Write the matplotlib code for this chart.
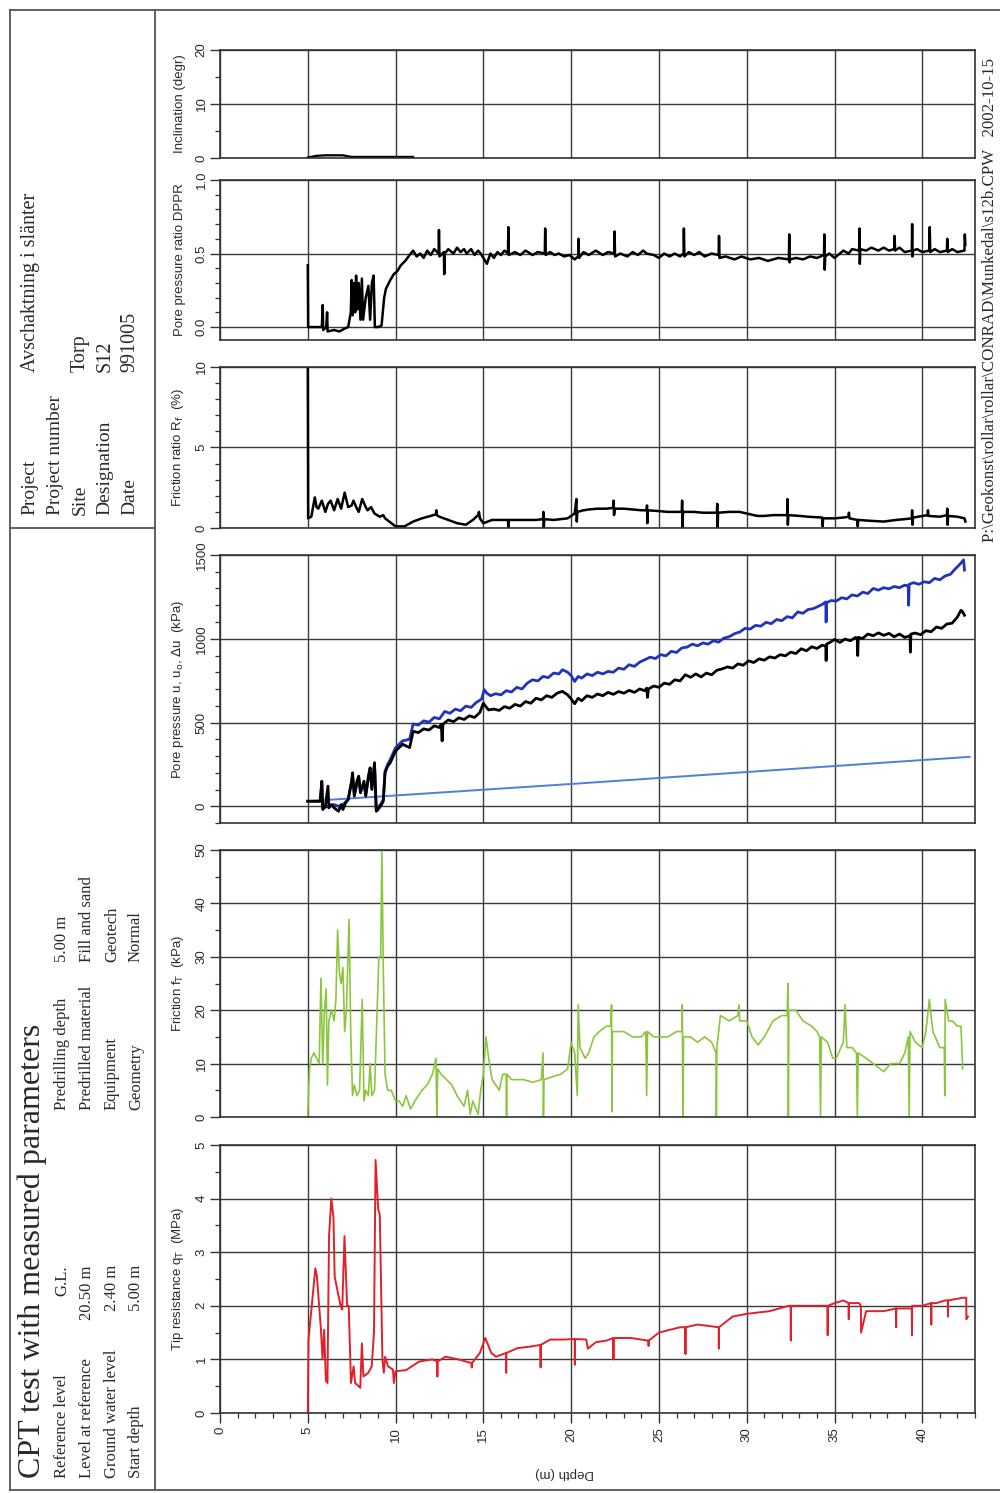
import numpy as np
import matplotlib
matplotlib.use("Agg")
import matplotlib.pyplot as plt
from matplotlib.ticker import MultipleLocator, FormatStrFormatter
from matplotlib.lines import Line2D

# ---------------- data ----------------
incl_depth = [5.0, 5.5, 6.0, 7.0, 7.5, 9.0, 11.0]
incl_val = [0.1, 0.4, 0.5, 0.5, 0.2, 0.2, 0.2]

dppr_depth = [5.0, 5.02, 5.5, 5.8, 5.85, 5.88, 6.05, 6.1, 6.13, 6.5, 6.8, 7.1, 7.3, 7.45, 7.5, 7.55, 7.62, 7.7,
              7.75, 7.82, 7.9, 8.0, 8.08, 8.15, 8.3, 8.45, 8.55, 8.65, 8.75, 8.82, 9.0, 9.2, 9.35, 9.45, 9.7, 9.9,
              10.1, 10.3, 10.55, 10.8, 11.0, 11.2, 11.4, 11.6, 11.8, 12.0, 12.2, 12.45, 12.47, 12.5, 12.75, 12.77,
              12.8, 13.0, 13.3, 13.5, 13.7, 13.9, 14.05, 14.3, 14.5, 14.7, 14.85, 15.2, 15.4, 15.6, 15.8, 16.0,
              16.2, 16.4, 16.42, 16.45, 16.8, 17.1, 17.4, 17.8, 18.1, 18.5, 18.52, 18.55, 18.8, 19.05, 19.3, 19.6,
              19.9, 20.2, 20.4, 20.42, 20.45, 20.7, 21.0, 21.4, 21.8, 22.1, 22.45, 22.47, 22.5, 22.8, 23.2, 23.5,
              23.8, 24.1, 24.3, 24.7, 25.0, 25.3, 25.6, 25.9, 26.2, 26.4, 26.42, 26.45, 26.7, 27.0, 27.3, 27.6,
              28.0, 28.4, 28.42, 28.45, 28.8, 29.3, 29.7, 30.2, 30.7, 31.2, 31.8, 32.4, 32.42, 32.44, 32.47,
              32.8, 33.2, 33.6, 34.0, 34.4, 34.42, 34.44, 34.47, 34.7, 35.0, 35.3, 35.5, 35.8, 36.0, 36.4, 36.42,
              36.44, 36.47, 36.8, 37.1, 37.5, 37.8, 38.1, 38.4, 38.42, 38.45, 38.7, 39.0, 39.4, 39.42, 39.44,
              39.47, 39.7, 40.0, 40.4, 40.42, 40.45, 40.7, 41.0, 41.4, 41.42, 41.45, 41.7, 42.0, 42.4, 42.42,
              42.45]
dppr_val = [0.42, 0.0, 0.0, 0.0, 0.15, -0.02, 0.0, 0.1, -0.03, -0.02, -0.03, -0.01, 0.0, 0.1, 0.32, 0.08, 0.3, 0.1,
            0.35, 0.12, 0.3, 0.05, 0.33, 0.05, 0.2, 0.28, 0.05, 0.3, 0.35, 0.0, 0.0, 0.01, 0.2, 0.26, 0.32, 0.36,
            0.38, 0.42, 0.45, 0.49, 0.52, 0.48, 0.5, 0.47, 0.52, 0.49, 0.53, 0.5, 0.66, 0.48, 0.51, 0.36,
            0.5, 0.53, 0.5, 0.54, 0.51, 0.53, 0.5, 0.53, 0.49, 0.52, 0.5, 0.43, 0.5, 0.47, 0.51, 0.49,
            0.52, 0.5, 0.68, 0.49, 0.51, 0.49, 0.52, 0.49, 0.51, 0.5, 0.67, 0.49, 0.51, 0.49, 0.5, 0.48,
            0.49, 0.46, 0.48, 0.6, 0.47, 0.51, 0.49, 0.52, 0.49, 0.51, 0.5, 0.65, 0.48, 0.5, 0.48, 0.51,
            0.49, 0.52, 0.5, 0.49, 0.47, 0.5, 0.48, 0.5, 0.48, 0.5, 0.67, 0.48, 0.51, 0.49, 0.51, 0.48,
            0.5, 0.49, 0.62, 0.47, 0.48, 0.46, 0.48, 0.46, 0.47, 0.45, 0.47, 0.46, 0.63, 0.44, 0.46,
            0.47, 0.46, 0.48, 0.47, 0.49, 0.63, 0.39, 0.48, 0.5, 0.47, 0.5, 0.52, 0.5, 0.53, 0.52, 0.67,
            0.43, 0.53, 0.52, 0.54, 0.52, 0.54, 0.52, 0.53, 0.62, 0.52, 0.54, 0.51, 0.52, 0.7, 0.48,
            0.52, 0.53, 0.51, 0.52, 0.68, 0.51, 0.53, 0.51, 0.52, 0.6, 0.51, 0.53, 0.51, 0.52, 0.63,
            0.56]

rf_depth = [5.0, 5.02, 5.2, 5.4, 5.5, 5.6, 5.8, 6.0, 6.15, 6.3, 6.5, 6.7, 6.9, 7.1, 7.3, 7.5, 7.6, 7.8, 7.9, 8.1,
            8.3, 8.4, 8.6, 8.8, 9.1, 9.3, 9.4, 9.7, 10.0, 10.5, 11.0, 11.5, 12.0, 12.3, 12.32, 12.35, 12.5, 13.0,
            13.5, 14.0, 14.4, 14.7, 14.75, 14.8, 15.0, 15.5, 16.0, 16.4, 16.42, 16.45, 17.0, 18.0, 18.4, 18.42,
            18.44, 18.47, 19.0, 19.8, 20.2, 20.3, 20.32, 20.35, 20.7, 21.0, 21.5, 22.0, 22.4, 22.42, 22.44, 22.5,
            23.0, 23.5, 24.0, 24.3, 24.32, 24.34, 24.37, 25.0, 25.5, 26.0, 26.3, 26.32, 26.34, 26.37, 27.0, 27.5,
            28.3, 28.32, 28.34, 28.37, 29.0, 29.6, 30.0, 30.6, 31.0, 31.5, 32.3, 32.32, 32.34, 32.37, 33.0, 33.5,
            34.3, 34.32, 34.35, 35.0, 35.5, 35.8, 35.82, 35.85, 36.3, 36.32, 36.35, 37.0, 37.8, 38.5, 39.0, 39.4,
            39.42, 39.44, 39.47, 40.0, 40.3, 40.32, 40.35, 41.0, 41.4, 41.42, 41.44, 41.47, 42.0, 42.4, 42.45]
rf_val = [10.0, 0.6, 0.7, 1.9, 1.3, 1.2, 1.7, 1.0, 1.5, 1.7, 1.1, 1.8, 1.2, 2.2, 1.3, 1.4, 1.7, 1.2, 1.0, 1.8,
          1.3, 1.1, 1.3, 0.9, 0.7, 0.8, 0.6, 0.35, 0.1, 0.1, 0.4, 0.6, 0.75, 0.85, 1.1, 0.8, 0.7, 0.5,
          0.3, 0.2, 0.5, 0.8, 1.0, 0.6, 0.3, 0.5, 0.5, 0.5, 0.0, 0.5, 0.5, 0.5, 0.55, 1.0,
          0.0, 0.55, 0.5, 0.6, 0.9, 1.8, 0.4, 1.0, 1.1, 1.15, 1.2, 1.2, 1.25, 1.7, 0.8, 1.2,
          1.2, 1.15, 1.1, 1.1, 1.4, 0.3, 1.1, 1.05, 1.0, 1.0, 1.0, 1.7, 0.0, 1.0, 1.0, 0.95,
          0.95, 1.5, 0.0, 0.95, 1.0, 1.0, 0.9, 0.75, 0.75, 0.8, 0.8, 1.8, 0.2, 0.8, 0.75, 0.7,
          0.65, 0.1, 0.6, 0.6, 0.65, 0.7, 0.95, 0.6, 0.5, 0.1, 0.5, 0.45, 0.4, 0.5, 0.55, 0.6,
          1.1, 0.2, 0.65, 0.75, 0.8, 1.1, 0.75, 0.7, 0.8, 1.2, 0.2, 0.75, 0.7, 0.6, 0.4]

u_depth = [5.0, 5.7, 5.8, 5.85, 6.0, 6.15, 6.2, 6.35, 6.5, 6.75, 6.9, 7.0, 7.15, 7.3, 7.5, 7.55, 7.65, 7.8, 7.9,
           8.0, 8.2, 8.3, 8.45, 8.55, 8.65, 8.8, 8.9, 9.0, 9.2, 9.3, 9.4, 9.55, 9.7, 10.0, 10.4, 10.8,
           11.0, 11.3, 11.6, 11.9, 12.2, 12.5, 12.6, 12.65, 12.7, 13.0, 13.3, 13.6, 13.9, 14.2, 14.5, 14.8,
           15.0, 15.1, 15.3, 15.6, 15.9, 16.2, 16.5, 16.8, 17.1, 17.4, 17.7, 18.0, 18.3, 18.6, 18.9, 19.2,
           19.5, 19.8, 20.0, 20.2, 20.4, 20.6, 20.9, 21.2, 21.5, 21.8, 22.1, 22.4, 22.7, 23.0, 23.3, 23.6,
           23.9, 24.2, 24.3, 24.35, 24.4, 24.7, 25.0, 25.3, 25.6, 25.9, 26.2, 26.5, 26.8, 27.1, 27.4, 27.7,
           28.0, 28.3, 28.6, 28.9, 29.2, 29.5, 29.8, 30.1, 30.4, 30.7, 31.0, 31.3, 31.6, 31.9, 32.2, 32.5,
           32.8, 33.1, 33.4, 33.7, 34.0, 34.3, 34.5, 34.52, 34.55, 34.8, 35.0, 35.3, 35.6, 35.9, 36.2, 36.3,
           36.32, 36.35, 36.6, 36.9, 37.2, 37.5, 37.8, 38.1, 38.4, 38.7, 39.0, 39.3, 39.32, 39.35, 39.6,
           39.9, 40.2, 40.5, 40.8, 41.1, 41.4, 41.7, 42.0, 42.2, 42.3, 42.4]
u_val = [30, 30, 150, -20, 0, 120, -10, 10, -10, -30, 10, -20, 20, 40, 150, 200, 60, 150, 180,
         80, 150, 60, 180, 230, 100, 260, -30, -20, 10, 30, 200, 240, 260, 330, 370, 350,
         447, 440, 462, 455, 480, 470, 490, 390, 490, 515, 505, 528, 518, 540, 530, 560,
         616, 600, 575, 580, 572, 595, 585, 608, 598, 625, 615, 645, 635, 660, 650, 675,
         686, 665, 640, 612, 645, 630, 660, 650, 670, 660, 680, 668, 685, 675, 692, 680,
         700, 690, 705, 650, 700, 718, 710, 735, 728, 755, 748, 785, 770, 790, 772, 795,
         785, 812, 820, 832, 825, 850, 842, 868, 858, 880, 872, 892, 885, 905, 898, 920,
         912, 940, 928, 952, 942, 962, 955, 870, 968, 982, 996, 978, 998, 988, 1008, 998,
         900, 1008, 1002, 1028, 1018, 1035, 1020, 1032, 1012, 1028, 1008, 1018, 920, 1028, 1034,
         1024, 1048, 1042, 1070, 1062, 1088, 1093, 1130, 1170, 1160, 1140]

u2_depth = [5.0, 5.7, 5.8, 5.85, 6.2, 6.5, 6.75, 7.0, 7.3, 7.55, 7.65, 7.9, 8.0, 8.2, 8.3, 8.55, 8.65, 8.8, 8.9,
            9.2, 9.3, 9.4, 9.55, 9.7, 10.0, 10.4, 10.8,
            11.0, 11.3, 11.6, 11.9, 12.2, 12.5, 12.8, 13.1, 13.4, 13.7, 14.0, 14.3, 14.6, 14.9, 15.05, 15.2,
            15.4, 15.7, 16.0, 16.3, 16.6, 16.9, 17.2, 17.5, 17.8, 18.1, 18.4, 18.7, 19.0, 19.3, 19.5, 19.8,
            20.0, 20.2, 20.4, 20.6, 20.9, 21.2, 21.5, 21.8, 22.1, 22.4, 22.7, 23.0, 23.3, 23.6, 23.9, 24.2,
            24.5, 24.8, 25.1, 25.4, 25.7, 26.0, 26.3, 26.6, 26.9, 27.2, 27.5, 27.8, 28.1, 28.4, 28.7, 29.0,
            29.3, 29.6, 29.9, 30.2, 30.5, 30.8, 31.1, 31.4, 31.7, 32.0, 32.3, 32.6, 32.9, 33.2, 33.5, 33.8,
            34.1, 34.3, 34.5, 34.52, 34.55, 34.8, 35.1, 35.4, 35.7, 36.0, 36.3, 36.6, 36.9, 37.2, 37.5, 37.8,
            38.1, 38.4, 38.7, 39.0, 39.2, 39.22, 39.25, 39.5, 39.8, 40.1, 40.4, 40.7, 41.0, 41.3, 41.6, 41.9,
            42.1, 42.35, 42.4]
u2_val = [30, 30, 130, -10, 0, 10, 0, 10, 40, 180, 70, 170, 90, 140, 70, 220, 110, 250, -20,
          20, 40, 210, 250, 280, 350, 390, 400,
          491, 485, 510, 502, 530, 522, 566, 555, 580, 570, 598, 590, 620, 640, 696, 675,
          660, 672, 665, 690, 682, 710, 700, 735, 755, 748, 775, 768, 795, 790, 815, 800,
          780, 745, 775, 765, 790, 780, 800, 790, 805, 800, 825, 818, 845, 835, 860, 875,
          890, 882, 905, 898, 925, 918, 945, 950, 968, 958, 975, 968, 988, 980, 1004, 1012,
          1030, 1040, 1062, 1058, 1080, 1075, 1098, 1090, 1115, 1108, 1132, 1125, 1160, 1152, 1175, 1180,
          1195, 1205, 1220, 1100, 1215, 1228, 1225, 1245, 1238, 1262, 1255, 1278, 1270, 1300, 1290, 1305,
          1298, 1312, 1305, 1320, 1315, 1200, 1325, 1335, 1325, 1340, 1335, 1360, 1352, 1375, 1385, 1420,
          1440, 1471, 1410]

u0_depth = [5.0, 20.0, 42.7]
u0_val = [30, 133, 295]

fs_depth = [5.0, 5.02, 5.1, 5.2, 5.35, 5.5, 5.65, 5.75, 5.85, 5.95, 6.05, 6.12, 6.2, 6.35, 6.5, 6.6, 6.7, 6.8,
            6.9, 7.0, 7.1, 7.2, 7.35, 7.45, 7.55, 7.65, 7.8, 7.95, 8.1, 8.2, 8.3, 8.45, 8.55, 8.65, 8.8, 8.95,
            9.05, 9.15, 9.22, 9.3, 9.4, 9.55, 9.75, 10.0, 10.2, 10.4, 10.6, 10.85, 11.1, 11.5, 11.8, 12.1,
            12.3, 12.35, 12.4, 12.6, 12.9, 13.2, 13.5, 13.9, 14.1, 14.25, 14.4, 14.7, 14.85, 15.0, 15.15,
            15.3, 15.5, 15.7, 15.9, 16.1, 16.3, 16.32, 16.34, 16.6, 16.95, 17.3, 17.8, 18.3, 18.4, 18.42,
            18.45, 18.9, 19.4, 19.8, 20.0, 20.2, 20.35, 20.4, 20.5, 20.8, 21.0, 21.3, 21.6, 22.0, 22.25,
            22.3, 22.32, 22.35, 22.7, 23.0, 23.5, 24.0, 24.25, 24.3, 24.35, 24.7, 25.0, 25.5, 26.0, 26.3,
            26.33, 26.36, 26.4, 26.8, 27.2, 27.6, 28.0, 28.25, 28.27, 28.3, 28.5, 29.0, 29.5, 29.55, 29.6,
            30.0, 30.3, 30.65, 31.0, 31.5, 32.0, 32.3, 32.35, 32.37, 32.4, 32.8, 33.2, 33.7, 34.0, 34.15,
            34.2, 34.25, 34.6, 34.9, 35.1, 35.5, 35.6, 35.7, 36.0, 36.25, 36.3, 36.35, 36.8, 37.2, 37.6,
            37.8, 38.2, 38.7, 39.0, 39.2, 39.25, 39.3, 39.6, 40.0, 40.2, 40.4, 40.6, 41.0, 41.25, 41.28,
            41.3, 41.5, 41.7, 42.0, 42.2, 42.3]
fs_val = [0, 3, 9, 11, 12, 11, 10, 26, 10, 20, 24, 6, 18, 20, 18, 22, 35, 27,
          25, 28, 16, 20, 37, 15, 4, 6, 4, 5, 22, 3, 5, 4, 10, 4, 5, 20,
          30, 30, 50, 28, 8, 5, 5, 3, 3, 2, 4, 1.5, 3, 5, 6, 8,
          11, 0, 9, 8, 7, 6, 4, 2, 5, 0.5, 3, 0.5, 5, 8, 15,
          11, 7, 6, 5, 8, 8, 0, 8, 7, 7, 7, 6.5, 7, 12, 0,
          7, 7.5, 8, 9, 14, 12, 4, 21, 13, 11, 12, 15, 16, 17, 17,
          21, 1, 16, 16, 16, 15, 15, 16, 4, 16, 15, 15, 15, 16, 16,
          21, 0, 15, 15, 14, 15, 14, 12, 0, 13, 19, 18, 19, 21, 18,
          18, 15, 13.5, 15, 18, 19, 19, 25, 0, 20, 20, 18, 17, 16, 15,
          0, 15, 14, 11, 11, 14, 21, 13, 13, 12, 0, 12, 11, 10, 9,
          8.5, 10, 10, 12, 15, 0, 16, 14, 13, 16, 22, 16, 13, 13, 4,
          22, 18, 18, 17, 17, 9]

qt_depth = [5.0, 5.04, 5.43, 5.52, 5.75, 5.84, 5.93, 6.03, 6.12, 6.21, 6.34, 6.46, 6.53, 6.68, 6.87, 6.96, 7.09,
            7.24, 7.33, 7.46, 7.61, 7.7, 7.99, 8.08, 8.17, 8.45, 8.64, 8.77, 8.86, 9.01, 9.1, 9.25, 9.33, 9.4,
            9.57, 9.85, 9.9, 10.0, 10.6, 11.34, 12.09, 12.37, 12.38, 12.39, 12.84, 13.58, 14.33, 14.34, 14.35,
            14.8, 15.11, 15.45, 15.73, 16.29, 16.3, 16.31, 16.94, 17.69, 18.25, 18.26, 18.27, 18.8, 19.55,
            20.2, 20.21, 20.22, 20.86, 20.95, 21.4, 22.0, 22.4, 22.41, 22.42, 23.4, 24.4, 24.41, 24.42, 25.0,
            26.2, 26.5, 26.51, 26.52, 27.2, 28.4, 28.41, 28.42, 29.2, 30.0, 31.3, 32.4, 32.5, 32.51, 32.52,
            34.0, 34.6, 34.61, 34.62, 35.0, 35.5, 35.8, 35.81, 35.82, 36.4, 36.5, 36.51, 36.8, 37.8, 38.5,
            38.51, 38.52, 38.9, 39.4, 39.41, 39.42, 40.0, 40.5, 40.51, 40.52, 40.8, 41.3, 41.45, 41.46,
            41.47, 42.3, 42.5, 42.51, 42.6]
qt_val = [0.0, 1.37, 2.7, 2.55, 1.55, 1.0, 1.55, 0.6, 0.56, 3.3, 4.0, 3.65, 2.55, 2.3, 2.0, 1.93, 3.3,
          2.0, 2.0, 0.56, 0.87, 0.56, 0.47, 1.3, 0.68, 0.75, 0.87, 1.5, 4.72, 3.8, 3.7, 1.0, 0.75, 1.05,
          0.87, 0.81, 0.56, 0.78, 0.8, 0.96, 1.0, 0.96, 0.68, 0.96, 1.05, 1.0, 0.93, 0.85, 0.93,
          1.12, 1.4, 1.12, 1.05, 1.12, 0.75, 1.12, 1.21, 1.24, 1.27, 0.85, 1.27, 1.37, 1.37,
          1.38, 0.9, 1.38, 1.37, 1.2, 1.32, 1.35, 1.4, 1.0, 1.4, 1.4, 1.35, 1.25, 1.35, 1.5,
          1.6, 1.6, 1.1, 1.6, 1.65, 1.6, 1.2, 1.6, 1.8, 1.85, 1.9, 2.0, 2.0, 1.35, 2.0,
          2.0, 2.0, 1.45, 2.0, 2.05, 2.1, 2.05, 1.75, 2.05, 2.05, 2.0, 1.5, 1.9, 1.9, 1.95,
          1.6, 1.95, 1.95, 1.95, 1.45, 2.0, 2.0, 2.05, 1.65, 2.05, 2.05, 2.1, 2.1, 1.8,
          2.1, 2.15, 2.15, 1.75, 1.8]

depth_ticks = [0, 5, 10, 15, 20, 25, 30, 35, 40]

# ---------------- figure ----------------
W, H = 1000, 1493
fig = plt.figure(figsize=(W / 100, H / 100), dpi=100)
fig.patch.set_facecolor("white")

SANS = ["Liberation Sans", "DejaVu Sans"]
SERIF = ["Liberation Serif", "DejaVu Serif"]
TXT = "#2a2a2a"
GRID = "#3a3a3a"


def fx(x):
    return x / W


def fy(y):
    return 1 - y / H


def make_ax(top, bottom, ylim, major, minor, label, xlabels=False):
    ax = fig.add_axes([fx(220), fy(bottom), fx(975) - fx(220), (bottom - top) / H])
    ax.set_xlim(0, 43)
    ax.set_ylim(*ylim)
    ax.yaxis.set_major_locator(MultipleLocator(major))
    ax.yaxis.set_minor_locator(MultipleLocator(minor))
    ax.xaxis.set_major_locator(MultipleLocator(5))
    ax.xaxis.set_minor_locator(MultipleLocator(1))
    ax.grid(True, which="major", color=GRID, lw=1.0)
    ax.set_axisbelow(True)
    for s in ax.spines.values():
        s.set_color("#333333")
        s.set_linewidth(1.2)
    ax.tick_params(axis="y", which="major", direction="out", length=7, width=1.0, color="#333333",
                   pad=2, labelsize=9.5, labelcolor=TXT)
    ax.tick_params(axis="y", which="minor", direction="out", length=3.5, width=0.9, color="#333333")
    for t in ax.get_yticklabels():
        t.set_rotation(90)
        t.set_va("center")
        t.set_ha("right")
        t.set_family(SANS)
    if xlabels:
        ax.tick_params(axis="x", which="major", direction="out", length=7, width=1.0, color="#333333",
                       labelsize=9.5, labelcolor=TXT, pad=3)
        ax.tick_params(axis="x", which="minor", direction="out", length=3.5, width=0.9, color="#333333")
        ax.set_xticks(depth_ticks)
        ax.set_xticklabels([str(d) for d in depth_ticks], rotation=90, family=SANS)
    else:
        ax.tick_params(axis="x", which="both", length=0, labelbottom=False)
    ax.set_ylabel(label, fontsize=9.5, color=TXT, family=SANS)
    ax.yaxis.set_label_coords((186 - 220) / 755, 0.5)
    return ax


ax1 = make_ax(50, 158, (0, 20), 10, 5, "Inclination (degr)")
ax1.plot(incl_depth, incl_val, color="black", lw=1.6)

ax2 = make_ax(180, 340, (-0.088, 1.0), 0.5, 0.1, "Pore pressure ratio DPPR")
ax2.yaxis.set_major_formatter(FormatStrFormatter("%.1f"))
ax2.plot(dppr_depth, dppr_val, color="black", lw=1.8)

ax3 = make_ax(367, 528, (0, 10), 5, 1, r"Friction ratio R$_{\rm f}$  (%)")
ax3.plot(rf_depth, rf_val, color="black", lw=1.8)

ax4 = make_ax(555, 823, (-100, 1500), 500, 100, r"Pore pressure u, u$_{\rm o}$, $\Delta$u  (kPa)")
ax4.plot(u0_depth, u0_val, color="#4f7fd6", lw=1.4)
ax4.plot(u2_depth, u2_val, color="#2233bb", lw=2.0)
ax4.plot(u_depth, u_val, color="black", lw=2.0)

ax5 = make_ax(850, 1117, (0, 50), 10, 5, r"Friction f$_{\rm T}$  (kPa)")
ax5.plot(fs_depth, fs_val, color="#8cc63f", lw=1.2)

ax6 = make_ax(1145, 1413, (0, 5), 1, 0.5, r"Tip resistance q$_{\rm T}$  (MPa)", xlabels=True)
ax6.plot(qt_depth, qt_val, color="#e0202a", lw=1.4)

fig.text(fx(565), fy(1473), "Depth (m)", rotation=180, ha="center", va="center",
         fontsize=9.5, color=TXT, family=SANS)

# ---------------- frame lines ----------------
def fline(x0, y0, x1, y1, lw=1.3, c="#555555"):
    fig.add_artist(Line2D([fx(x0), fx(x1)], [fy(y0), fy(y1)], transform=fig.transFigure, color=c, lw=lw))


fline(10, 10, 1000, 10)
fline(10, 10, 10, 1490)
fline(10, 1490, 1000, 1490)
fline(155, 10, 155, 1490)
fline(10, 528, 155, 528)


def vtext(x, y, s, size, ha="left", family=SERIF):
    fig.text(fx(x), fy(y), s, rotation=90, rotation_mode="anchor", ha=ha, va="center",
             fontsize=size, color=TXT, family=family)


# top info block
for x, lab in zip([30, 55, 80, 105, 130], ["Project", "Project number", "Site", "Designation", "Date"]):
    vtext(x, 515, lab, 14)
for x, val in zip([30, 80, 105, 130], ["Avschaktning i slänter", "Torp", "S12", "991005"]):
    vtext(x, 372, val, 14.5)

# bottom info block
vtext(32, 1478, "CPT test with measured parameters", 23)
for x, lab, val in zip([62, 87, 112, 136],
                       ["Reference level", "Level at reference", "Ground water level", "Start depth"],
                       ["G.L.", "20.50 m", "2.40 m", "5.00 m"]):
    vtext(x, 1478, lab, 12)
    vtext(x, 1265, val, 12, ha="right")
for x, lab, val in zip([62, 87, 112, 136],
                       ["Predrilling depth", "Predrilled material", "Equipment", "Geometry"],
                       ["5.00 m", "Fill and sand", "Geotech", "Normal"]):
    vtext(x, 1110, lab, 12)
    vtext(x, 962, val, 12)

# file path along right edge
vtext(990, 542, "P:\\Geokonst\\rollar\\rollar\\CONRAD\\Munkedal\\s12b.CPW   2002-10-15", 12.2)

fig.savefig("out.png", dpi=100)
